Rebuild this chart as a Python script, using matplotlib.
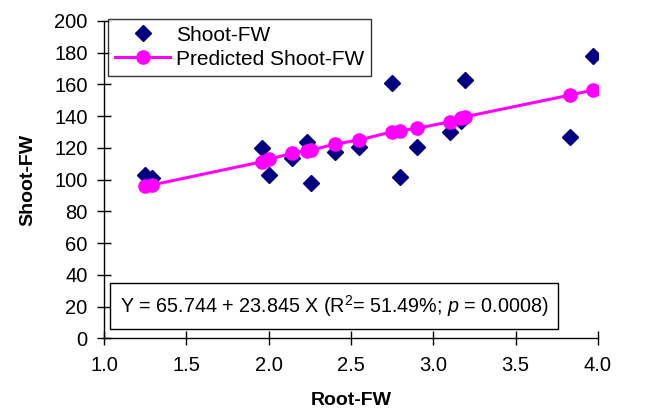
import matplotlib
matplotlib.use("Agg")
import matplotlib.pyplot as plt

plt.rcParams['font.family'] = ['Liberation Sans', 'DejaVu Sans']
plt.rcParams['mathtext.fontset'] = 'custom'
plt.rcParams['mathtext.rm'] = 'Liberation Sans'
plt.rcParams['mathtext.it'] = 'Liberation Sans:italic'

# Data
root_fw = [1.25, 1.29, 1.96, 2.00, 2.14, 2.23, 2.26, 2.40, 2.55, 2.75, 2.80, 2.90, 3.10, 3.17, 3.19, 3.83, 3.97]
shoot_fw = [102.9, 101.0, 119.7, 102.9, 113.4, 123.9, 97.7, 117.6, 120.7, 160.8, 101.4, 120.3, 130.2, 137.0, 162.8, 127.0, 178.0]
predicted = [95.8, 96.6, 111.3, 112.8, 116.6, 118.2, 118.6, 122.4, 125.0, 130.2, 130.8, 132.3, 136.5, 138.6, 139.6, 153.3, 156.5]

x_ticks = [1.0, 1.5, 2.0, 2.5, 3.0, 3.5, 4.0]
y_ticks = [0, 20, 40, 60, 80, 100, 120, 140, 160, 180, 200]
equation = r"Y = 65.744 + 23.845 X (R$^{2}$= 51.49%; $p$ = 0.0008)"

fig = plt.figure(figsize=(6.63, 4.12), dpi=100)
ax = fig.add_axes([104/663, 1 - 338.3/412, (598 - 104)/663, (338.3 - 21)/412])

ax.plot(root_fw, shoot_fw, linestyle='none', marker='D', markersize=8,
        color='#000080', label='Shoot-FW', zorder=3)
ax.plot(root_fw, predicted, linestyle='-', linewidth=2.2, marker='o', markersize=9.5,
        color='#FF00FF', label='Predicted Shoot-FW', zorder=4)

ax.set_xlim(1.0, 4.0)
ax.set_ylim(0, 200)
ax.set_xticks(x_ticks)
ax.set_xticklabels([f"{v:.1f}" for v in x_ticks])
ax.set_yticks(y_ticks)
ax.set_yticklabels([str(v) for v in y_ticks])

for s in ['top', 'right']:
    ax.spines[s].set_visible(False)
for s in ['left', 'bottom']:
    ax.spines[s].set_linewidth(1.0)
    ax.spines[s].set_color('black')

ax.tick_params(axis='both', direction='inout', length=9.5, width=1.0,
               labelsize=14.5, colors='black')
ax.tick_params(axis='x', pad=8)
ax.tick_params(axis='y', pad=7)

ax.set_xlabel('Root-FW', fontsize=14, fontweight='bold', labelpad=12)
ax.set_ylabel('Shoot-FW', fontsize=14, fontweight='bold', labelpad=13)

leg = ax.legend(loc='upper left', bbox_to_anchor=(4.3/494, 1 + 2.3/317.3),
                borderaxespad=0, fontsize=15, frameon=True, fancybox=False,
                edgecolor='black', handlelength=2.65, handletextpad=0.25,
                labelspacing=0.25, borderpad=0.33)
leg.get_frame().set_linewidth(1.0)

ax.text(0.032, 0.102, equation, transform=ax.transAxes, fontsize=14.2,
        va='center', ha='left',
        bbox=dict(boxstyle='square,pad=0.5', fc='white', ec='black', lw=1.0))

fig.savefig('out.png', dpi=100)
